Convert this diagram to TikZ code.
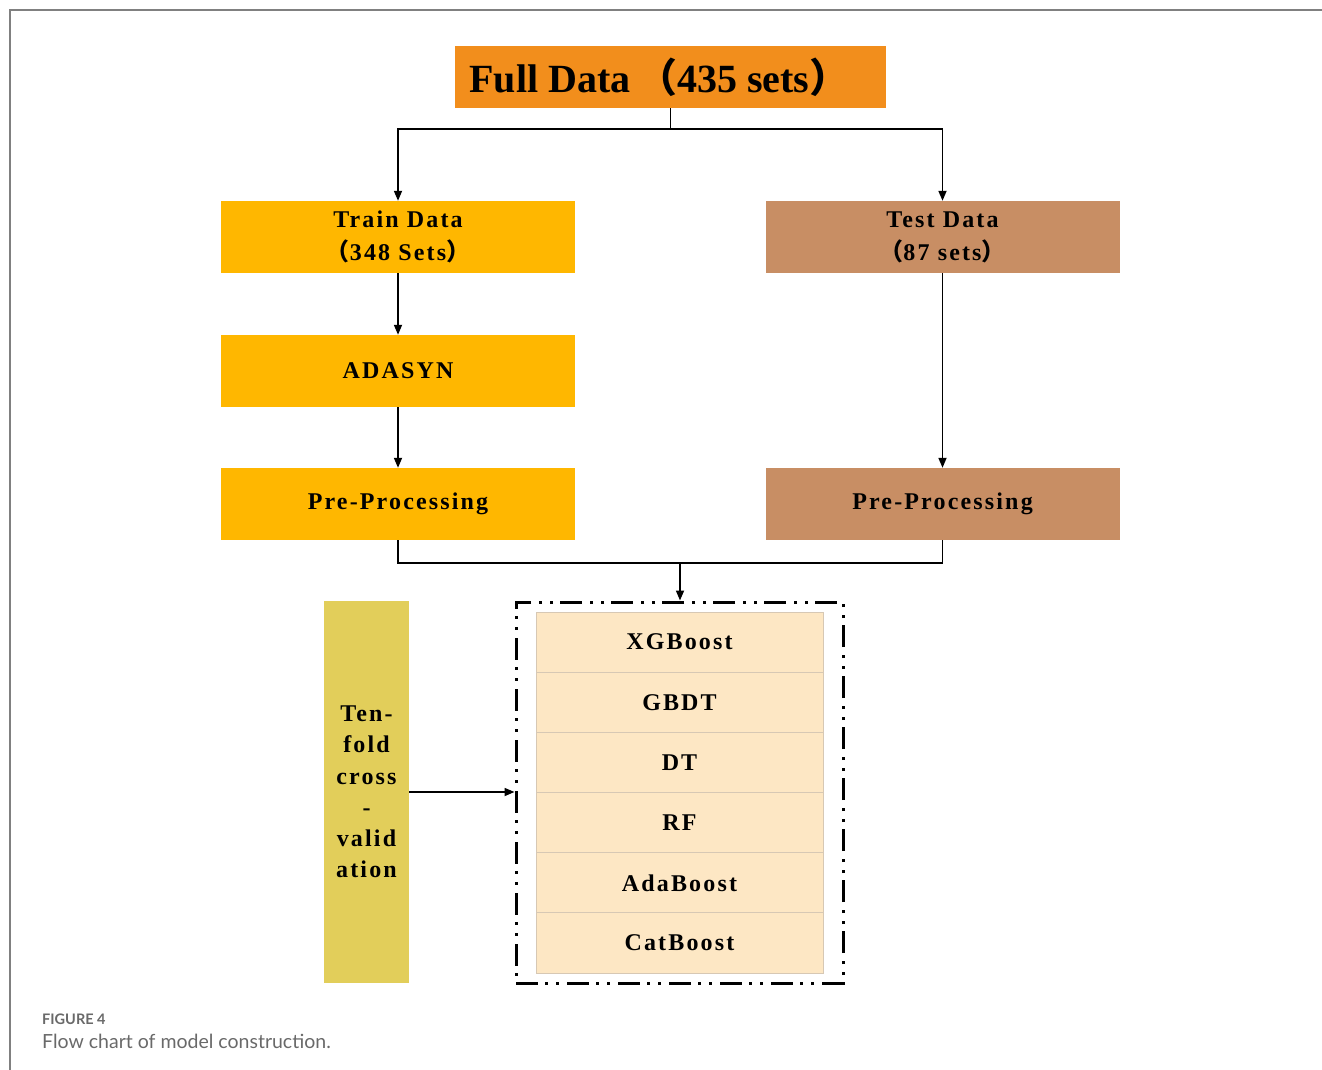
\documentclass[tikz,border=0pt]{standalone}
\usepackage{fontspec}
\setmainfont{Liberation Serif}
\newfontfamily\lbl[LetterSpace=9]{Liberation Serif}
\newfontfamily\cjk{Noto Sans CJK SC}
\newfontfamily\capfont{Lato}
\usetikzlibrary{arrows.meta}
\definecolor{cfull}{RGB}{242,142,28}
\definecolor{ctrain}{RGB}{255,183,0}
\definecolor{ctest}{RGB}{200,142,100}
\definecolor{cten}{RGB}{226,206,90}
\definecolor{cmodel}{RGB}{253,231,196}
\definecolor{cmodelline}{RGB}{215,200,180}
\definecolor{cframe}{RGB}{128,128,128}
\definecolor{ccap}{RGB}{105,105,105}
\newcommand{\lp}{{\cjk\bfseries （}}
\newcommand{\rp}{{\cjk\bfseries ）}}
\tikzset{
  box/.style={inner sep=0pt, minimum width=354pt, minimum height=72pt,
    font=\lbl\bfseries\fontsize{24}{33}\selectfont, align=center},
  trainbox/.style={box, fill=ctrain},
  testbox/.style={box, fill=ctest},
  modelbox/.style={inner sep=0pt, minimum width=287pt, minimum height=60.17pt,
    fill=cmodel, draw=cmodelline, line width=0.8pt,
    font=\lbl\bfseries\fontsize{24}{30}\selectfont},
  conn/.style={line width=1.7pt, black},
  arr/.style={conn, -{Triangle[length=10pt,width=8pt]}},
}
\begin{document}
\begin{tikzpicture}[x=1pt,y=-1pt]
\useasboundingbox (0,0) rectangle (1322,1070);
% page frame
\draw[cframe, line width=1.5pt] (10,1070) -- (10,10) -- (1322,10);

% top box
\node[inner sep=0pt, minimum width=431pt, minimum height=62pt, fill=cfull,
  font=\bfseries\fontsize{40}{44}\selectfont] (full) at (670.5,77)
  {\hspace*{-22pt}Full Data\,\lp 435 sets\rp};

\node[trainbox] (train) at (398,237) {Train Data\\\lp 348 Sets\rp};
\node[testbox] (test) at (942.5,237) {Test Data\\\lp 87 sets\rp};
\node[trainbox] (adasyn) at (398,371) {ADASYN};
\node[trainbox] (preL) at (398,504) {Pre-Processing};
\node[testbox] (preR) at (942.5,504) {Pre-Processing};

% dashed box
\node[inner sep=0pt, minimum width=327pt, minimum height=381pt, draw=black,
  line width=3pt, dash pattern=on 22pt off 7pt on 3pt off 8pt on 3pt off 8pt]
  (dash) at (679.5,792.5) {};

\node[modelbox] (m1) at (679.5,642.1) {XGBoost};
\node[modelbox] (m2) at (679.5,702.3) {GBDT};
\node[modelbox] (m3) at (679.5,762.4) {DT};
\node[modelbox] (m4) at (679.5,822.6) {RF};
\node[modelbox] (m5) at (679.5,882.8) {AdaBoost};
\node[modelbox] (m6) at (679.5,942.9) {CatBoost};

% ten-fold
\node[inner sep=0pt, minimum width=85pt, minimum height=382pt, fill=cten,
  font=\lbl\bfseries\fontsize{24}{31.2}\selectfont, align=center]
  (ten) at (366.5,792) {Ten-\\fold\\cross\\-\\valid\\ation};

% connectors
\coordinate (j1) at (670.5,129);
\draw[conn] (full.south) -- (j1);
\draw[arr] (j1) -| (train.north);
\draw[arr] (j1) -| (test.north);
\draw[arr] (train.south) -- (adasyn.north);
\draw[arr] (adasyn.south) -- (preL.north);
\draw[arr] (test.south) -- (preR.north);
\coordinate (j2) at (680,563);
\draw[conn] (preL.south) |- (j2) -| (preR.south);
\draw[arr] (j2) -- (dash.north -| j2);
\draw[arr] (ten.east) -- (ten.east -| dash.west);

% caption
\node[anchor=base west, inner sep=0pt, text=ccap,
  font=\capfont\bfseries\fontsize{14.5}{17}\selectfont] (figlbl) at (42,1024) {FIGURE 4};
\node[anchor=base west, inner sep=0pt, text=ccap,
  font=\capfont\fontsize{19.5}{23}\selectfont] (figcap) at (42,1048) {Flow chart of model construction.};
\end{tikzpicture}
\end{document}
